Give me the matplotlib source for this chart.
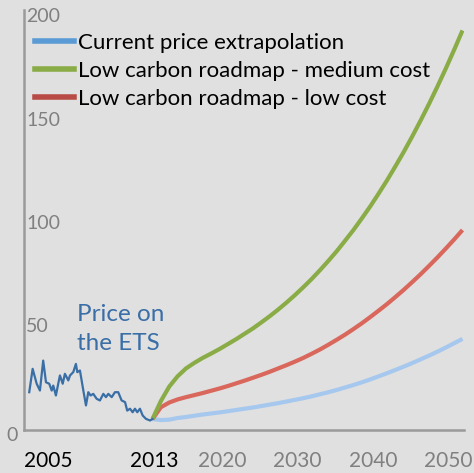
import matplotlib
matplotlib.use('Agg')
import matplotlib.pyplot as plt
import matplotlib.transforms as mtransforms
from matplotlib.lines import Line2D
import numpy as np

plt.rcParams['font.family'] = ['Lato', 'DejaVu Sans']

# historical EU ETS price
ets_years = [2005.05, 2005.27, 2005.53, 2005.74, 2005.95, 2006.13, 2006.34, 2006.50,
             2006.60, 2006.77, 2006.92, 2007.03, 2007.21, 2007.35, 2007.57, 2007.68,
             2007.89, 2008.06, 2008.15, 2008.32, 2008.43, 2008.54, 2008.71, 2008.86,
             2009.01, 2009.18, 2009.40, 2009.61, 2009.83, 2010.00, 2010.15, 2010.37,
             2010.58, 2010.79, 2011.01, 2011.23, 2011.37, 2011.55, 2011.72, 2011.87,
             2012.02, 2012.19, 2012.37, 2012.58, 2012.84, 2013.0]
ets_price = [18.3, 29.6, 22.4, 19.1, 33.6, 23.1, 22.4, 19.1,
             21.5, 16.7, 22.4, 26.4, 22.4, 27.2, 24.0, 26.4,
             28.0, 32.0, 28.0, 28.8, 24.0, 19.1, 11.9, 18.3,
             16.7, 17.5, 15.1, 14.3, 17.5, 15.9, 17.5, 15.9,
             18.3, 18.3, 14.3, 13.5, 9.4, 10.3, 8.6, 10.3,
             8.6, 10.3, 7.0, 5.4, 4.6, 5.3]

# projections 2013-2050
proj_years = list(range(2013, 2051))
current_extrap = [5.3, 4.8, 5.0, 5.8, 6.3, 6.9, 7.5, 8.0, 8.5, 9.1, 9.7, 10.3, 10.9,
                  11.6, 12.3, 13.0, 13.8, 14.6, 15.4, 16.3, 17.3, 18.3, 19.4, 20.6,
                  21.8, 23.1, 24.5, 26.0, 27.5, 29.1, 30.7, 32.4, 34.2, 36.0, 37.9,
                  39.9, 42.0, 44.1]
medium_cost = [5.3, 14.0, 21.0, 26.0, 29.8, 32.5, 34.9, 37.0, 39.2, 41.6, 44.0, 46.6,
               49.2, 52.1, 55.1, 58.3, 61.7, 65.3, 69.1, 73.1, 77.4, 81.9, 86.6, 91.7,
               96.9, 102.5, 108.3, 114.5, 120.9, 127.7, 134.7, 142.1, 149.8, 157.8,
               166.2, 174.9, 184.0, 193.4]
low_cost = [5.3, 11.0, 13.3, 14.8, 15.9, 16.9, 17.9, 19.0, 20.1, 21.3, 22.6, 23.9,
            25.3, 26.7, 28.2, 29.8, 31.4, 33.1, 34.9, 36.9, 39.0, 41.3, 43.7, 46.2,
            48.9, 51.7, 54.7, 57.8, 61.0, 64.4, 67.9, 71.6, 75.4, 79.4, 83.5, 87.8,
            92.2, 96.8]

series_names = ['Current price extrapolation', 'Low carbon roadmap - medium cost',
                'Low carbon roadmap - low cost']
y_ticks = [0, 50, 100, 150, 200]
x_labels_dark = ['2005', '2013']
x_labels_grey = ['2020', '2030', '2040', '2050']
x_label_pos_grey = [2021.3, 2030.3, 2039.4, 2048.3]

# history is drawn on a stretched scale (about 1.85x per year)
stretch = 15.5 / 8.378


def fwd(x):
    x = np.asarray(x, dtype=float)
    return np.where(x < 2013, 2013 + (x - 2013) * stretch, x)


def inv(x):
    x = np.asarray(x, dtype=float)
    return np.where(x < 2013, 2013 + (x - 2013) / stretch, x)


bg = '#e0e0e0'
fig = plt.figure(figsize=(4.74, 4.73), dpi=100, facecolor=bg)
ax = fig.add_axes([23.5 / 474, 43 / 473, 440.5 / 474, 420 / 473])
ax.set_facecolor(bg)
ax.set_xscale('function', functions=(fwd, inv))

ax.plot(proj_years, current_extrap, color='#a6c8ee', lw=3.0, solid_capstyle='butt')
ax.plot(proj_years, low_cost, color='#d9675c', lw=3.0, solid_capstyle='butt')
ax.plot(proj_years, medium_cost, color='#8aac46', lw=3.0, solid_capstyle='butt')
ax.plot(ets_years, ets_price, color='#3a6ea6', lw=1.6)

ax.set_xlim(2004.68, 2050.18)
ax.set_ylim(0, 203.3)

for s in ['top', 'right']:
    ax.spines[s].set_visible(False)
for s in ['left', 'bottom']:
    ax.spines[s].set_color('#9a9a9a')
    ax.spines[s].set_linewidth(1.8)
ax.set_xticks([])
ax.set_yticks([])

# y labels, drawn as text
ytr = mtransforms.blended_transform_factory(ax.transAxes, ax.transData)
for v in y_ticks:
    if v == 0:
        ax.text(-0.013, v - 2.5, str(v), transform=ytr, ha='right', va='center',
                fontsize=14, color='#808080')
    else:
        ax.text(0.006, v, str(v), transform=ytr, ha='left', va='center',
                fontsize=14, color='#808080')

# x labels
xtr = mtransforms.blended_transform_factory(ax.transData, fig.transFigure)
ax.text(2004.7, 12 / 473, x_labels_dark[0], transform=xtr, ha='left', va='center',
        fontsize=15, color='black', clip_on=False)
ax.text(2013.2, 12 / 473, x_labels_dark[1], transform=xtr, ha='center', va='center',
        fontsize=15, color='black', clip_on=False)
for lab, pos in zip(x_labels_grey, x_label_pos_grey):
    ax.text(pos, 12 / 473, lab, transform=xtr, ha='center', va='center',
            fontsize=15, color='#808080', clip_on=False)

# annotation
ax.text(77 / 474, (473 - 304) / 473, 'Price on\nthe ETS', transform=fig.transFigure,
        ha='left', va='top', fontsize=17.5, color='#3a6ea6', linespacing=1.5)

handles = [Line2D([0], [0], color='#5b9bd5', lw=4.0),
           Line2D([0], [0], color='#8aac46', lw=4.0),
           Line2D([0], [0], color='#b84b45', lw=4.0)]
ax.legend(handles, series_names, loc='upper left',
          bbox_to_anchor=(35 / 474, (473 - 33) / 473), bbox_transform=fig.transFigure,
          frameon=False, fontsize=16, handlelength=1.75, handletextpad=0.2,
          labelspacing=0.36, borderaxespad=0, borderpad=0)

fig.savefig('out.png', dpi=100, facecolor=bg)
